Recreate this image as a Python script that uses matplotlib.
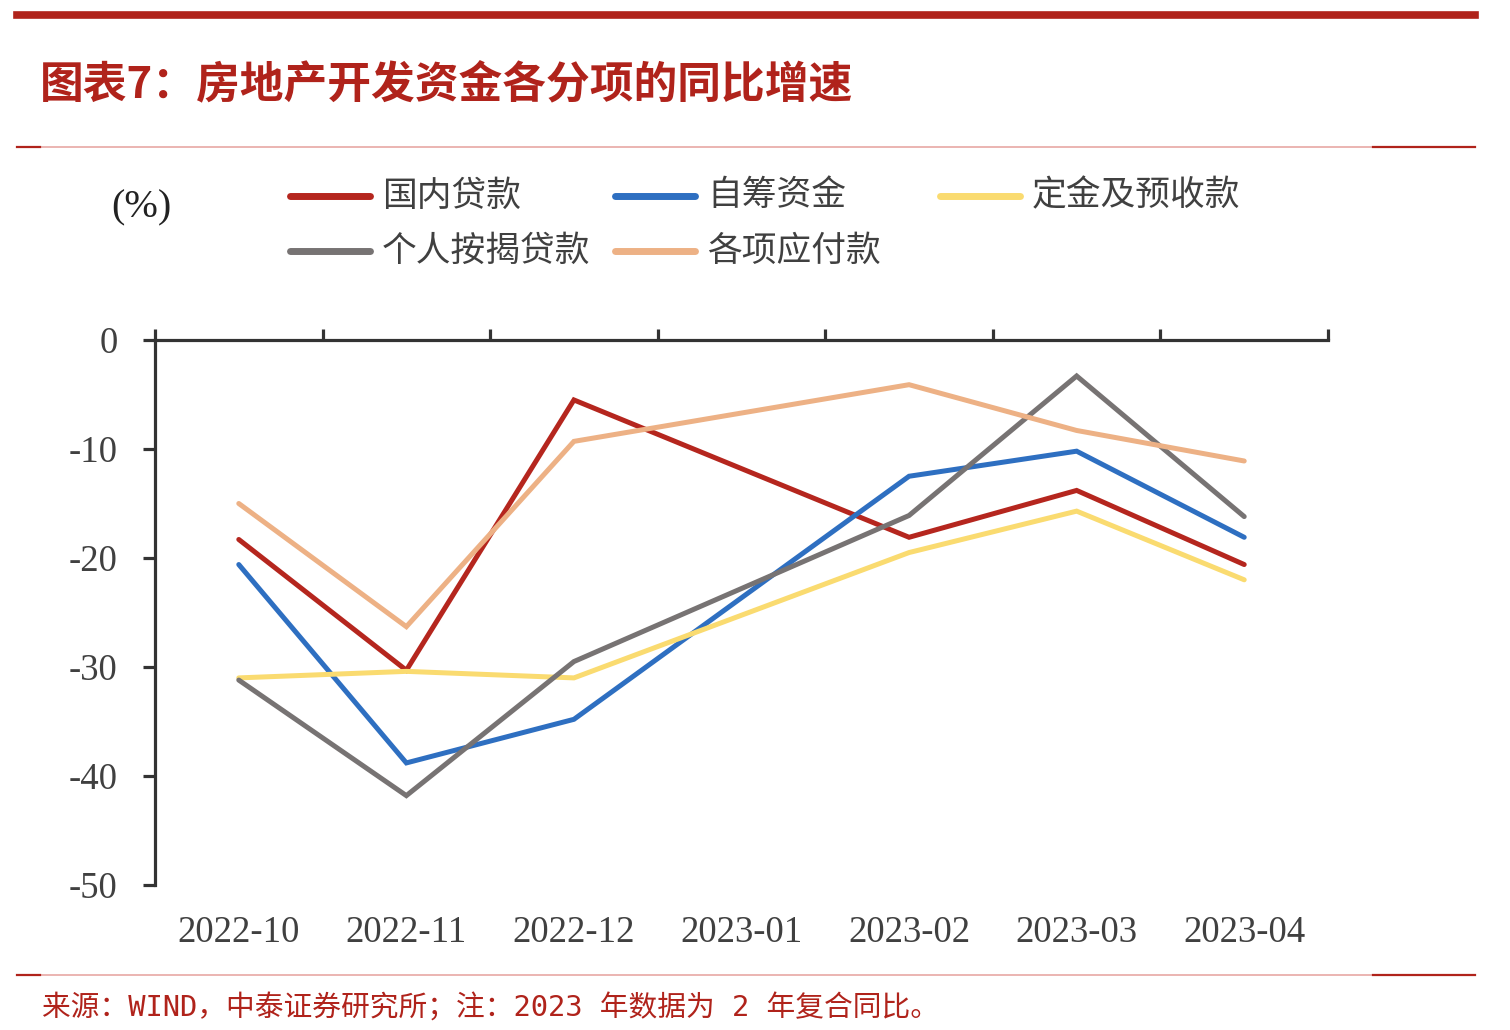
import numpy as np
import matplotlib
matplotlib.use('Agg')
import matplotlib.pyplot as plt
from matplotlib.lines import Line2D

plt.rcParams['font.family'] = ['Liberation Serif', 'Noto Sans CJK SC']

# data (2023-01 merged into Jan-Feb, so no point)
months = ['2022-10', '2022-11', '2022-12', '2023-01', '2023-02', '2023-03', '2023-04']
domestic_loan = [-18.3, -30.3, -5.5, np.nan, -18.1, -13.8, -20.6]
self_raised = [-20.6, -38.8, -34.8, np.nan, -12.5, -10.2, -18.1]
deposits = [-31.0, -30.4, -31.0, np.nan, -19.5, -15.7, -22.0]
mortgage = [-31.2, -41.8, -29.5, np.nan, -16.1, -3.3, -16.2]
payables = [-15.0, -26.3, -9.3, np.nan, -4.1, -8.3, -11.1]

series_names = ['国内贷款', '自筹资金', '定金及预收款', '个人按揭贷款', '各项应付款']
series_vals = [domestic_loan, self_raised, deposits, mortgage, payables]
colors = ['#B5261E', '#2E6FC1', '#FADB70', '#777373', '#EDB185']
# legend grid slot (col, row)
slots = [(0, 0), (1, 0), (2, 0), (0, 1), (1, 1)]

fig = plt.figure(figsize=(15.1, 10.3), dpi=100)
W, H = 1510, 1030

def fx(px): return px / W
def fy(py): return 1 - py / H

# decorative rules
fig.add_artist(Line2D([fx(17), fx(1475)], [fy(15), fy(15)], color='#B0231B', lw=5.5))
for yy in (147, 975):
    fig.add_artist(Line2D([fx(17), fx(1475)], [fy(yy), fy(yy)], color='#E8A8A4', lw=1.2))
    fig.add_artist(Line2D([fx(17), fx(40)], [fy(yy), fy(yy)], color='#B0231B', lw=1.6))
    fig.add_artist(Line2D([fx(1373), fx(1475)], [fy(yy), fy(yy)], color='#B0231B', lw=1.6))

fig.text(fx(40), fy(85), '图表7：房地产开发资金各分项的同比增速', fontsize=31.5, fontweight='bold',
         color='#B0231B', family=['Noto Sans CJK SC'], ha='left', va='center')
fig.text(fx(42), fy(1008), '来源：WIND，中泰证券研究所；注：2023 年数据为 2 年复合同比。', fontsize=20.7,
         color='#B0231B', family=['DejaVu Sans Mono', 'Noto Sans CJK SC'], ha='left', va='center')
fig.text(fx(141), fy(208), '(%)', fontsize=29, color='#222222', ha='center', va='center')

ax = fig.add_axes([fx(155), fy(885), fx(1328) - fx(155), fy(340) - fy(885)])
x = np.arange(len(months))
for name, vals, c in zip(series_names, series_vals, colors):
    v = np.array(vals, dtype=float)
    m = ~np.isnan(v)
    ax.plot(x[m], v[m], color=c, lw=3.6, solid_capstyle='round', solid_joinstyle='miter', label=name)

ax.set_xlim(-0.5, len(months) - 0.5)
ax.set_ylim(-50, 0)
ax.set_yticks(np.arange(-50, 1, 10))
ax.set_yticklabels([str(t) for t in range(-50, 1, 10)])
for s in ('right', 'bottom'):
    ax.spines[s].set_visible(False)
for s in ('left', 'top'):
    ax.spines[s].set_linewidth(2.3)
    ax.spines[s].set_color('#333333')
ax.tick_params(axis='y', direction='out', length=9, width=2.3, color='#333333',
               labelsize=26.5, labelcolor='#404040', pad=18)
ax.set_xticks(x)
ax.set_xticklabels(months)
ax.tick_params(axis='x', which='major', length=0, labelsize=26.5, labelcolor='#404040', pad=22)
ax.set_xticks(np.arange(-0.5, len(months), 1), minor=True)
ax.tick_params(axis='x', which='minor', top=True, bottom=False, direction='out',
               length=8, width=2.3, color='#333333')

# legend drawn by hand to match the grid layout
col_x = [290, 615, 940]
row_y = [196, 251]
for (ci, ri), name, c in zip(slots, series_names, colors):
    x0 = col_x[ci]
    y0 = row_y[ri]
    fig.add_artist(Line2D([fx(x0), fx(x0 + 80)], [fy(y0), fy(y0)], color=c, lw=5, solid_capstyle='round'))
    fig.text(fx(x0 + 92), fy(y0), name, fontsize=25,
             color='#404040', family=['Noto Sans CJK SC'], ha='left', va='center')

fig.savefig('out.png', dpi=100)
